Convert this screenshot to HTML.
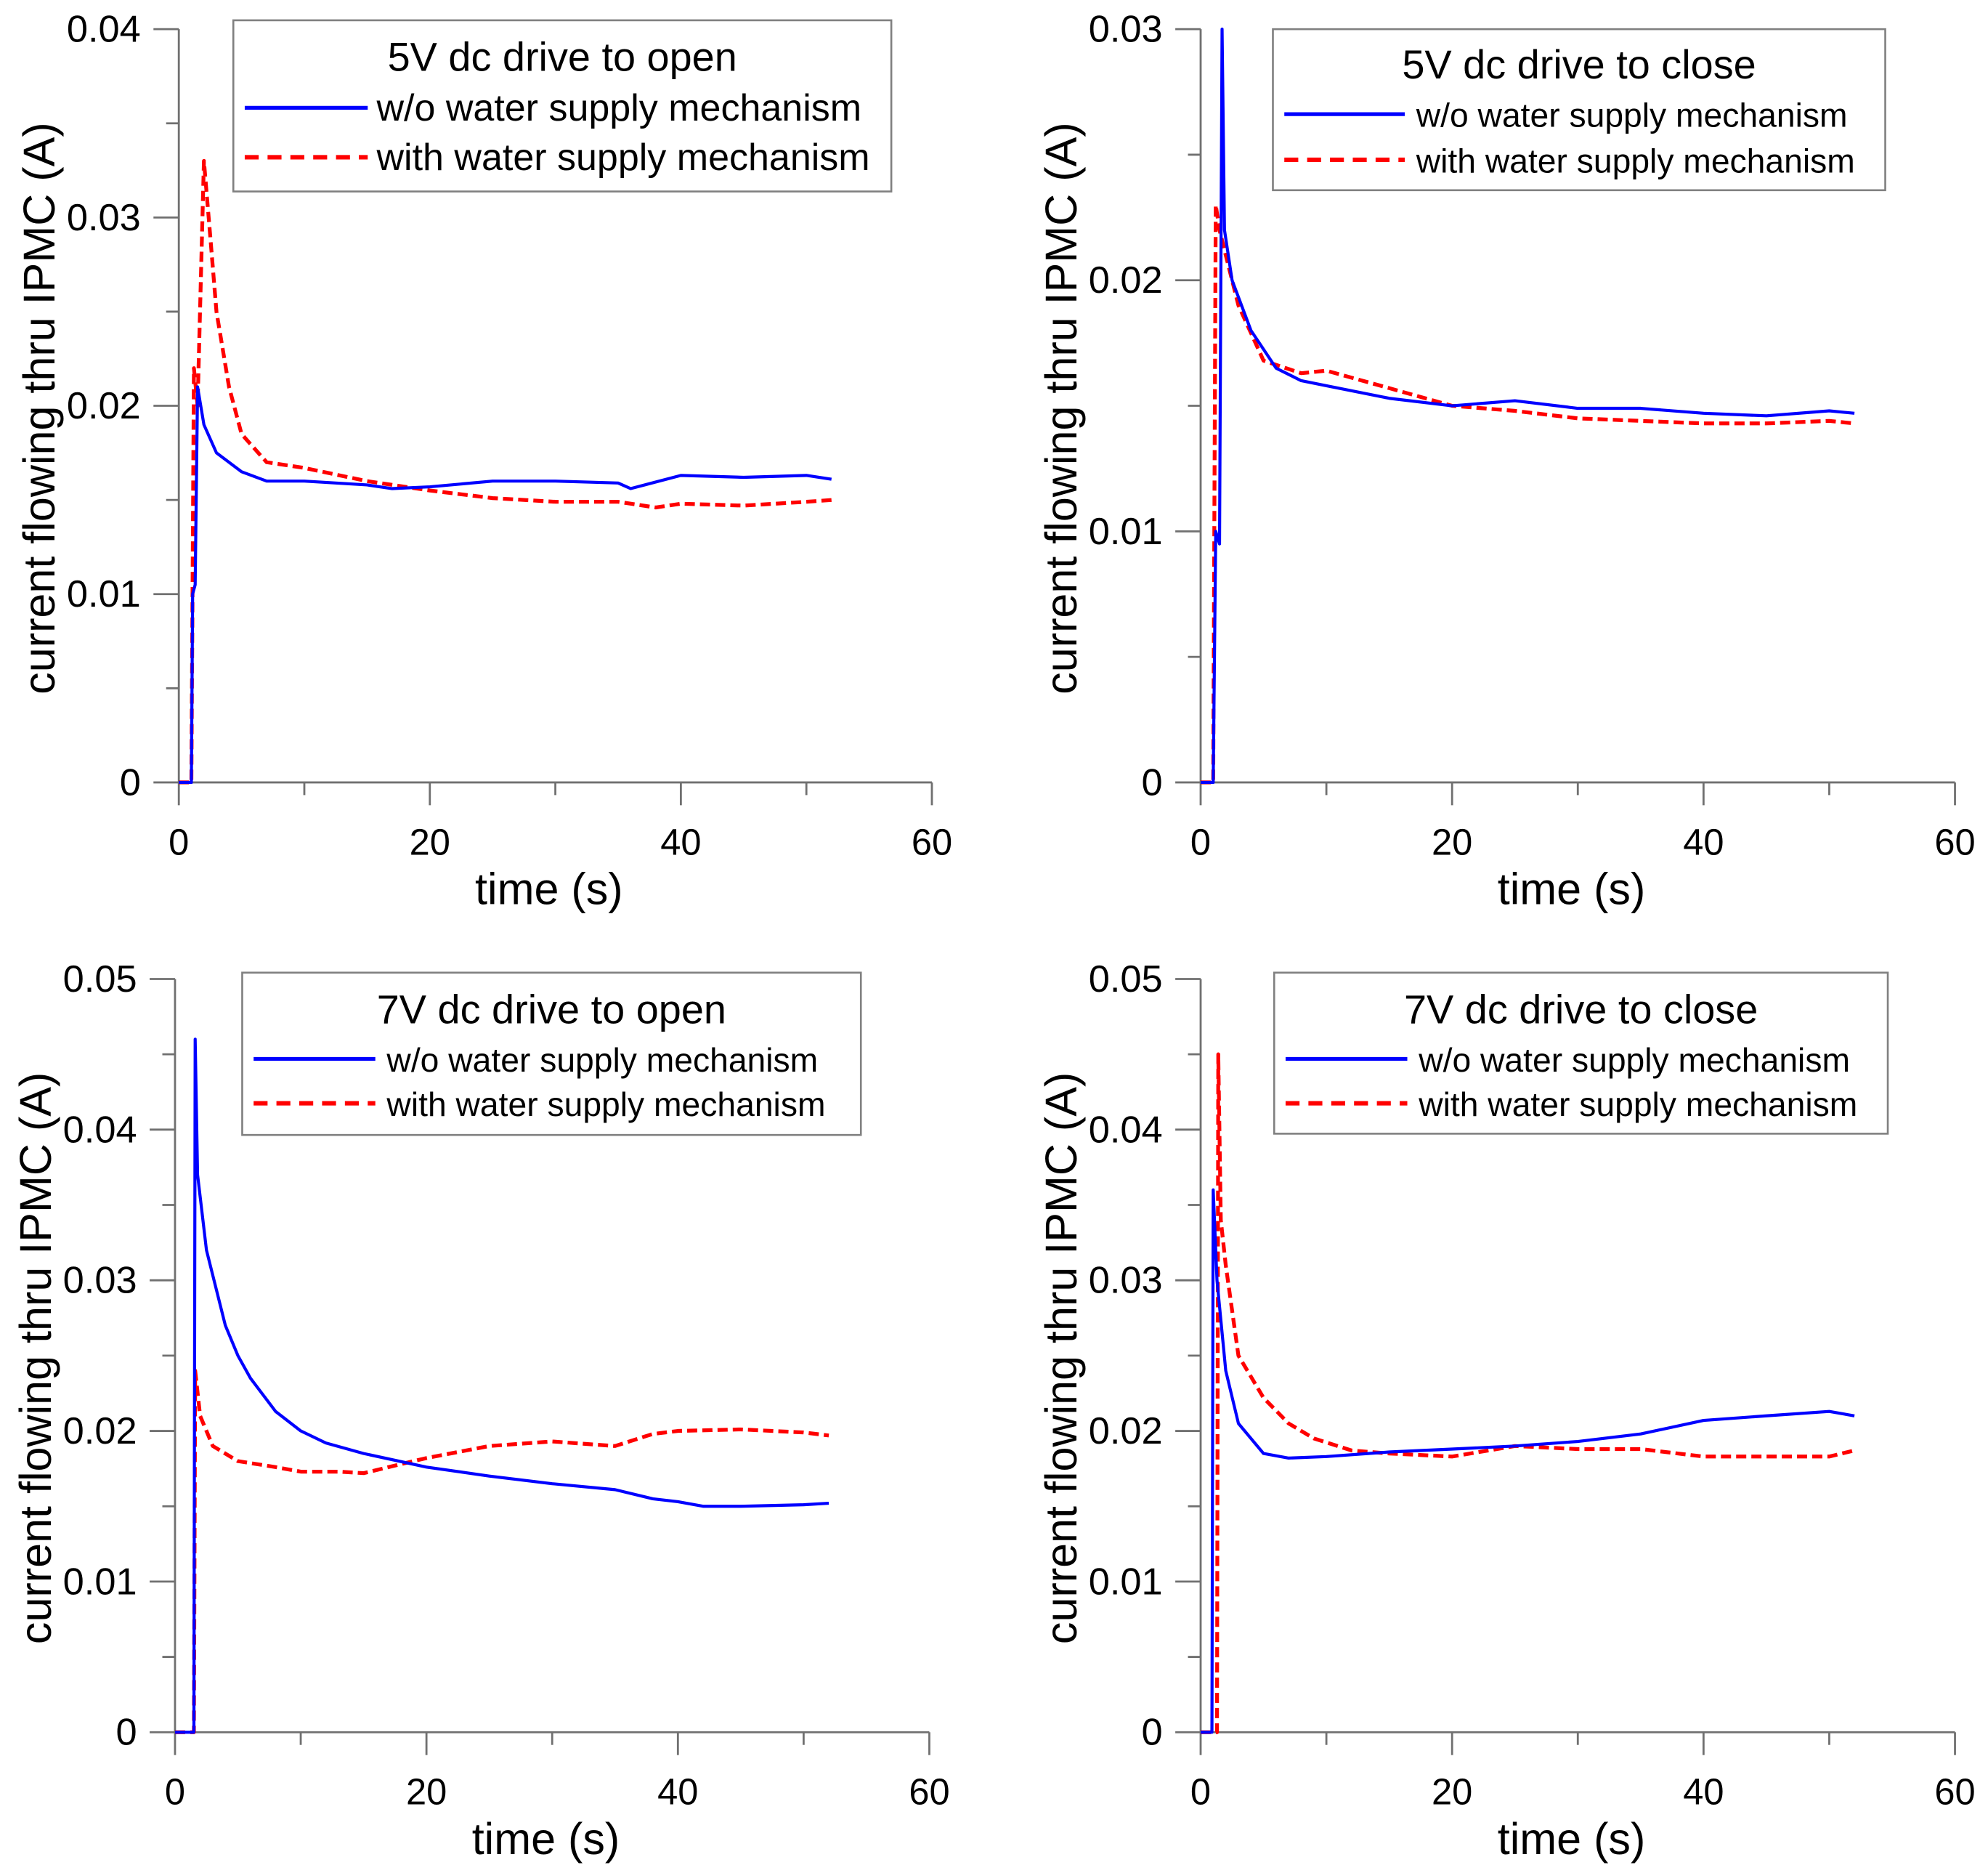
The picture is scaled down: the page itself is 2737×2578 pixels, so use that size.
<!DOCTYPE html>
<html><head><meta charset="utf-8"><style>
html,body{margin:0;padding:0;background:#fff}
svg{display:block}
text{font-family:"Liberation Sans",Arial,sans-serif;fill:#000}
</style></head><body>
<svg id="chart" width="2737" height="2578" viewBox="0 0 1568 1477" xmlns="http://www.w3.org/2000/svg"></svg>
<script>
// Panel data: times (s) and currents (A)
const p1BlueT=[0,1.0,1.1,1.3,1.5,2,3,5,7,10,15,17,20,25,30,35,36,40,45,50,52];
const p1BlueV=[0,0,0.01,0.0105,0.021,0.019,0.0175,0.0165,0.016,0.016,0.0158,0.0156,0.0157,0.016,0.016,0.0159,0.0156,0.0163,0.0162,0.0163,0.0161];
const p1RedT=[0,1.0,1.2,1.5,2,2.5,3,4,5,7,10,15,20,25,30,35,38,40,45,50,52];
const p1RedV=[0,0,0.022,0.02,0.033,0.029,0.025,0.021,0.0185,0.017,0.0167,0.016,0.0155,0.0151,0.0149,0.0149,0.0146,0.0148,0.0147,0.0149,0.015];
const p2BlueT=[0,1.0,1.2,1.5,1.7,1.9,2.5,4,6,8,10,15,20,25,30,35,40,45,50,52];
const p2BlueV=[0,0,0.01,0.0095,0.03,0.022,0.02,0.018,0.0165,0.016,0.0158,0.0153,0.015,0.0152,0.0149,0.0149,0.0147,0.0146,0.0148,0.0147];
const p2RedT=[0,1.0,1.2,1.5,2,3,5,8,10,15,20,25,30,35,40,45,50,52];
const p2RedV=[0,0,0.023,0.022,0.021,0.019,0.0168,0.0163,0.0164,0.0157,0.015,0.0148,0.0145,0.0144,0.0143,0.0143,0.0144,0.0143];
const p3BlueT=[0,1.5,1.6,1.8,2.5,4,5,6,8,10,12,15,20,25,30,35,38,40,42,45,50,52];
const p3BlueV=[0,0,0.046,0.037,0.032,0.027,0.025,0.0235,0.0213,0.02,0.0192,0.0185,0.0176,0.017,0.0165,0.0161,0.0155,0.0153,0.015,0.015,0.0151,0.0152];
const p3RedT=[0,1.5,1.6,2,3,5,8,10,13,15,18,20,25,30,35,38,40,45,50,52];
const p3RedV=[0,0,0.024,0.021,0.019,0.018,0.0176,0.0173,0.0173,0.0172,0.0178,0.0182,0.019,0.0193,0.019,0.0198,0.02,0.0201,0.0199,0.0197];
const p4BlueT=[0,0.9,1.0,1.3,2,3,5,7,10,15,20,25,30,35,40,45,50,52];
const p4BlueV=[0,0,0.036,0.03,0.024,0.0205,0.0185,0.0182,0.0183,0.0186,0.0188,0.019,0.0193,0.0198,0.0207,0.021,0.0213,0.021];
const p4RedT=[0,1.3,1.4,1.6,2,3,5,7,9,12,15,20,25,30,35,40,45,50,52];
const p4RedV=[0,0,0.045,0.034,0.031,0.025,0.0222,0.0205,0.0195,0.0187,0.0185,0.0183,0.019,0.0188,0.0188,0.0183,0.0183,0.0183,0.0187];
const xTicks=[0,20,40,60];
const yTicks1=["0","0.01","0.02","0.03","0.04"];
const yTicks2=["0","0.01","0.02","0.03"];
const yTicks3=["0","0.01","0.02","0.03","0.04","0.05"];
const titles=["5V dc drive to open","5V dc drive to close","7V dc drive to open","7V dc drive to close"];
const labelBlue="w/o water supply mechanism";
const labelRed="with water supply mechanism";

const NS="http://www.w3.org/2000/svg";
const svg=document.getElementById('chart');
function mk(tag,attrs,parent){const e=document.createElementNS(NS,tag);for(const k in attrs)e.setAttribute(k,attrs[k]);(parent||svg).appendChild(e);return e;}

const panels=[
 {x0:141,x1:735,y0:617,y1:23,ymax:0.04,yt:yTicks1,bt:p1BlueT,bv:p1BlueV,rt:p1RedT,rv:p1RedV,
  lg:{x:184,y:16,w:519,h:135,ty:45,e1:85,e2:124,lx1:193,lx2:290,tx:297,fs:29.8}},
 {x0:947,x1:1542,y0:617,y1:23,ymax:0.03,yt:yTicks2,bt:p2BlueT,bv:p2BlueV,rt:p2RedT,rv:p2RedV,
  lg:{x:1004,y:23,w:483,h:127,ty:51,e1:90,e2:126,lx1:1013,lx2:1108,tx:1117,fs:26.5}},
 {x0:138,x1:733,y0:1366,y1:772,ymax:0.05,yt:yTicks3,bt:p3BlueT,bv:p3BlueV,rt:p3RedT,rv:p3RedV,
  lg:{x:191,y:767,w:488,h:128,ty:796,e1:835,e2:870,lx1:200,lx2:296,tx:305,fs:26.5}},
 {x0:947,x1:1542,y0:1366,y1:772,ymax:0.05,yt:yTicks3,bt:p4BlueT,bv:p4BlueV,rt:p4RedT,rv:p4RedV,
  lg:{x:1005,y:767,w:484,h:127,ty:796,e1:835,e2:870,lx1:1014,lx2:1110,tx:1119,fs:26.5}}
];

panels.forEach((p,i)=>{
 const g=mk('g',{});
 
 
 const sx=t=>p.x0+(t/60)*(p.x1-p.x0);
 const sy=v=>p.y0-(v/p.ymax)*(p.y0-p.y1);
 const ax='#707070';
 const yax=mk('line',{x1:p.x0,y1:p.y0,x2:p.x0,y2:p.y1,stroke:ax,'stroke-width':1.6},g);
 
 
 const xax=mk('line',{x1:p.x0,y1:p.y0,x2:p.x1,y2:p.y0,stroke:ax,'stroke-width':1.6},g);
 
 
 const n=p.yt.length-1, step=p.ymax/n;
 p.yt.forEach((lab,k)=>{
  const y=sy(k*step);
  mk('line',{x1:p.x0-20,y1:y,x2:p.x0,y2:y,stroke:ax,'stroke-width':1.6},g);
  if(k<n){const ym=sy((k+0.5)*step);mk('line',{x1:p.x0-10,y1:ym,x2:p.x0,y2:ym,stroke:ax,'stroke-width':1.6},g);}
  const t=mk('text',{x:p.x0-30,y:y+10,'font-size':30,'text-anchor':'end'},g);
  t.textContent=lab;
  
  
 });
 xTicks.forEach((v,k)=>{
  const x=sx(v);
  mk('line',{x1:x,y1:p.y0,x2:x,y2:p.y0+18,stroke:ax,'stroke-width':1.6},g);
  if(k<xTicks.length-1){const xm=sx(v+10);mk('line',{x1:xm,y1:p.y0,x2:xm,y2:p.y0+10,stroke:ax,'stroke-width':1.6},g);}
  const t=mk('text',{x:x,y:p.y0+57,'font-size':29,'text-anchor':'middle'},g);
  t.textContent=v;
  
  
 });
 const xt=mk('text',{x:(p.x0+p.x1)/2-5,y:p.y0+96,'font-size':35,'text-anchor':'middle'},g);
 xt.textContent='time (s)';
 
 
 const cx=p.x0-98, cy=(p.y0+p.y1)/2+2;
 const yt=mk('text',{x:cx,y:cy,'font-size':35,'text-anchor':'middle',transform:`rotate(-90 ${cx} ${cy})`},g);
 yt.textContent='current flowing thru IPMC (A)';
 
 
 const path=(T,V)=>T.map((t,k)=>(k?'L':'M')+sx(t).toFixed(1)+','+sy(V[k]).toFixed(1)).join(' ');
 const rl=mk('path',{d:path(p.rt,p.rv),fill:'none',stroke:'#ff0000','stroke-width':3,'stroke-dasharray':'8 4','stroke-linejoin':'round'},g);
 
 
 const bl=mk('path',{d:path(p.bt,p.bv),fill:'none',stroke:'#0000ff','stroke-width':2.4,'stroke-linejoin':'round'},g);
 
 
 const L=p.lg;
 const lg=mk('g',{},g);
 
 
 mk('rect',{x:L.x,y:L.y,width:L.w,height:L.h,fill:'#fff',stroke:'#808080','stroke-width':1.5},lg);
 const tt=mk('text',{x:L.x+L.w/2,y:L.ty+11,'font-size':32,'text-anchor':'middle'},lg);
 tt.textContent=titles[i];
 
 
 mk('line',{x1:L.lx1,y1:L.e1,x2:L.lx2,y2:L.e1,stroke:'#0000ff','stroke-width':3},lg);
 const t1=mk('text',{x:L.tx,y:L.e1+10,'font-size':L.fs},lg);
 t1.textContent=labelBlue;
 
 
 mk('line',{x1:L.lx1,y1:L.e2,x2:L.lx2,y2:L.e2,stroke:'#ff0000','stroke-width':3.5,'stroke-dasharray':'11 7'},lg);
 const t2=mk('text',{x:L.tx,y:L.e2+10,'font-size':L.fs},lg);
 t2.textContent=labelRed;
 
 
});
</script>
</body></html>
